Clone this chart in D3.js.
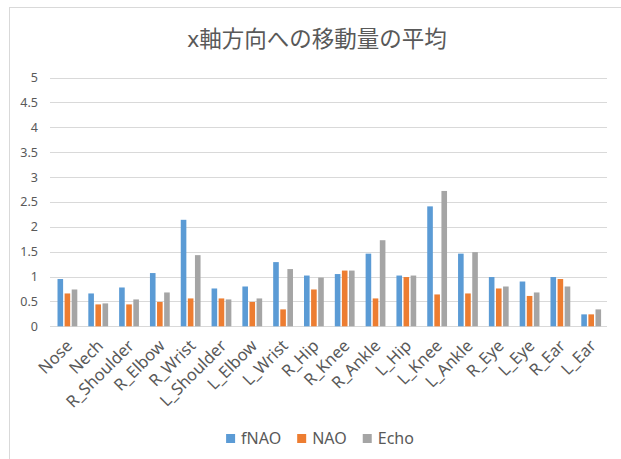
<!DOCTYPE html>
<html><head><meta charset="utf-8">
<script src="https://cdn.jsdelivr.net/npm/d3@7"></script>
<style>body{margin:0;background:#fff;} svg{display:block;}</style>
</head><body>
<svg id="c" width="621" height="459"></svg>
<script>
const categories = ["Nose","Nech","R_Shoulder","R_Elbow","R_Wrist","L_Shoulder","L_Elbow","L_Wrist","R_Hip","R_Knee","R_Ankle","L_Hip","L_Knee","L_Ankle","R_Eye","L_Eye","R_Ear","L_Ear"];
const seriesNames = ["fNAO","NAO","Echo"];
const fNAO = [0.95,0.66,0.78,1.07,2.14,0.76,0.80,1.29,1.02,1.05,1.46,1.02,2.41,1.46,0.99,0.90,0.99,0.24];
const NAO  = [0.66,0.44,0.44,0.49,0.56,0.56,0.49,0.34,0.74,1.12,0.56,0.99,0.64,0.66,0.76,0.61,0.95,0.24];
const Echo = [0.74,0.46,0.54,0.68,1.43,0.54,0.56,1.15,0.98,1.12,1.73,1.02,2.72,1.49,0.80,0.68,0.80,0.34];
const yTicks = [0,0.5,1,1.5,2,2.5,3,3.5,4,4.5,5];
const titleText = "x軸方向への移動量の平均";

const colors = ["#5B9BD5","#ED7D31","#A5A5A5"];
const values = [fNAO, NAO, Echo];
const svg = d3.select("#c");
const font = "'Noto Sans','Noto Sans CJK JP',sans-serif";
const textColor = "#595959";

// outer border
svg.append("rect").attr("x",9.5).attr("y",7.5).attr("width",700).attr("height",600)
  .attr("fill","none").attr("stroke","#D9D9D9").attr("stroke-width",1);

const x = d3.scaleBand().domain(categories).range([52, 606.6]).padding(0);
const y = d3.scaleLinear().domain([0,5]).range([326.3, 77.5]);

// gridlines
svg.append("g").selectAll("line").data(yTicks).join("line")
  .attr("x1",50).attr("x2",607)
  .attr("y1",d=>Math.round(y(d))+0.5).attr("y2",d=>Math.round(y(d))+0.5)
  .attr("stroke","#D9D9D9").attr("stroke-width",1);

// y axis labels
const yAxis = d3.axisLeft(y).tickValues(yTicks).tickSize(0).tickPadding(0).tickFormat(d3.format("~g"));
const yg = svg.append("g").attr("transform","translate(38,0)").call(yAxis);
yg.select(".domain").remove();
yg.selectAll("text").attr("fill",textColor).style("font-family",font).style("font-size","12.5px");

// bars
const barW = 5.6, step = 7.1;
const groupW = barW*3 + (step-barW)*2;
const g = svg.append("g");
values.forEach((vals,si)=>{
  g.selectAll(".b"+si).data(vals).join("rect")
    .attr("x",(d,i)=>x(categories[i]) + x.bandwidth()/2 - groupW/2 + si*step)
    .attr("width",barW)
    .attr("y",d=>y(d)).attr("height",d=>y(0)-y(d))
    .attr("fill",colors[si]);
});

// x axis labels
const xAxis = d3.axisBottom(x).tickSize(0).tickPadding(0);
const xg = svg.append("g").attr("transform","translate(0,326.3)").call(xAxis);
xg.select(".domain").remove();
xg.selectAll("text")
  .attr("fill",textColor).style("font-family",font).style("font-size","16.5px")
  .attr("text-anchor","end").attr("dy",null).attr("y",0)
  .attr("transform","translate(6,20.5) rotate(-45)");

// title
svg.append("text").attr("x",317).attr("y",47).attr("text-anchor","middle")
  .attr("fill",textColor).style("font-family",font).style("font-size","22.5px").text(titleText);

// legend
const lg = svg.append("g");
const items = lg.selectAll("g").data(seriesNames).join("g");
items.append("rect").attr("width",9).attr("height",9).attr("y",-4.5).attr("fill",(d,i)=>colors[i]);
items.append("text").attr("x",15).attr("y",0).attr("dy","0.35em")
  .attr("fill",textColor).style("font-family",font).style("font-size","16px").text(d=>d);
let cx = 0; const pos = [];
items.each(function(){ pos.push(cx); cx += this.getBBox().width + 16; });
const total = cx - 16;
items.attr("transform",(d,i)=>`translate(${pos[i]},0)`);
lg.attr("transform",`translate(${320 - total/2},438.5)`);
</script>
</body></html>
